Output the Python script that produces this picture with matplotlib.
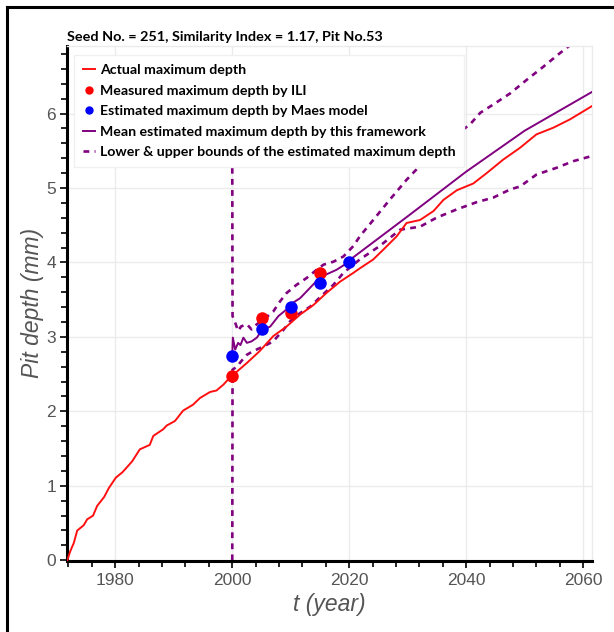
import matplotlib
matplotlib.use('Agg')
import matplotlib.pyplot as plt
from matplotlib.lines import Line2D
from matplotlib.ticker import MultipleLocator

# actual maximum pit depth (mm) over time
actual_t = [1971.8, 1972.3, 1972.9, 1973.5, 1974.6, 1975.2, 1976.2, 1976.9, 1978.1, 1978.9,
            1980.1, 1981.2, 1982.0, 1982.9, 1984.2, 1985.9, 1986.5, 1988.2, 1988.8, 1990.2,
            1991.6, 1993.3, 1994.5, 1996.2, 1997.3, 1998.5, 1999.3, 2000.0, 2002.5, 2004.7,
            2007.0, 2009.3, 2011.6, 2013.9, 2016.1, 2018.4, 2020.7, 2021.8, 2024.1, 2025.8,
            2028.1, 2029.8, 2032.1, 2034.4, 2036.1, 2038.4, 2041.2, 2043.5, 2046.3, 2049.2,
            2052.0, 2054.9, 2057.7, 2061.5]
actual_d = [0.00, 0.12, 0.23, 0.40, 0.47, 0.55, 0.60, 0.73, 0.85, 0.97,
            1.11, 1.18, 1.25, 1.33, 1.49, 1.55, 1.67, 1.76, 1.81, 1.87,
            2.01, 2.09, 2.18, 2.26, 2.28, 2.36, 2.43, 2.48, 2.65, 2.81,
            3.01, 3.14, 3.30, 3.43, 3.59, 3.74, 3.86, 3.92, 4.04, 4.17,
            4.35, 4.53, 4.57, 4.69, 4.84, 4.97, 5.06, 5.20, 5.38, 5.54,
            5.72, 5.81, 5.92, 6.10]

# ILI measurements
ili_t = [2000, 2005, 2010, 2015]
ili_d = [2.48, 3.25, 3.32, 3.86]

# Maes model estimates
maes_t = [2000, 2005, 2010, 2015, 2020]
maes_d = [2.75, 3.10, 3.40, 3.72, 4.00]

# mean estimate of the framework
mean_t = [2000.0, 2000.1, 2000.5, 2001.0, 2001.4, 2001.9, 2002.5, 2003.3, 2004.2, 2005.0,
          2006.5, 2007.9, 2009.3, 2010.4, 2011.6, 2012.7, 2014.4, 2016.1, 2017.8, 2019.6,
          2020.2, 2030.0, 2040.0, 2050.0, 2061.5]
mean_d = [2.75, 2.99, 2.83, 2.92, 2.89, 2.99, 2.92, 2.94, 2.99, 3.08,
          3.14, 3.28, 3.37, 3.46, 3.52, 3.61, 3.75, 3.84, 3.90, 3.99,
          4.04, 4.62, 5.22, 5.77, 6.29]

# upper and lower bounds
upper_t = [2000.0, 2000.05, 2000.5, 2001.0, 2001.5, 2002.5, 2003.3, 2004.2, 2005.3, 2007.0,
           2008.2, 2009.3, 2011.0, 2012.7, 2014.4, 2015.6, 2017.3, 2019.0, 2020.7, 2021.8,
           2024.1, 2026.9, 2029.8, 2032.6, 2035.5, 2038.3, 2040.6, 2042.4, 2044.6, 2047.5,
           2050.3, 2053.2, 2056.0, 2058.3, 2061.5]
upper_d = [5.27, 3.28, 3.19, 3.08, 3.14, 3.17, 3.10, 3.17, 3.23, 3.34,
           3.48, 3.59, 3.70, 3.79, 3.90, 3.97, 4.01, 4.08, 4.22, 4.35,
           4.57, 4.84, 5.11, 5.34, 5.56, 5.72, 5.85, 6.01, 6.12, 6.27,
           6.45, 6.63, 6.81, 6.95, 7.15]
lower_t = [2000.0, 2000.05, 2000.8, 2001.5, 2002.5, 2003.6, 2005.3, 2007.0, 2008.8, 2009.9,
           2011.6, 2013.4, 2015.1, 2017.3, 2019.0, 2020.7, 2021.8, 2025.2, 2028.7, 2032.1,
           2034.9, 2038.3, 2041.8, 2044.6, 2047.5, 2049.2, 2052.0, 2055.4, 2058.3, 2061.5]
lower_d = [0.00, 2.56, 2.60, 2.67, 2.76, 2.81, 2.87, 2.94, 3.10, 3.21,
           3.32, 3.41, 3.54, 3.70, 3.86, 3.97, 4.04, 4.22, 4.44, 4.48,
           4.60, 4.71, 4.81, 4.87, 4.98, 5.02, 5.18, 5.27, 5.36, 5.43]

PURPLE = '#800080'
DASH = (0, (2.2, 2))

fig = plt.figure(figsize=(6.14, 6.32), dpi=100)
ax = fig.add_axes([0.1096, 0.1123, 0.8546, 0.8153])

ax.plot(upper_t, upper_d, color=PURPLE, lw=1.9, ls=DASH, zorder=2)
ax.plot(lower_t, lower_d, color=PURPLE, lw=1.9, ls=DASH, zorder=2)
ax.plot(mean_t, mean_d, color=PURPLE, lw=1.4, zorder=3)
ax.plot(actual_t, actual_d, color='#ff1010', lw=1.4, zorder=3)
ax.plot(ili_t, ili_d, 'o', color='#ff0000', ms=9, mec='none', zorder=4)
ax.plot(maes_t, maes_d, 'o', color='#0000ff', ms=9, mec='none', zorder=5)

ax.set_xlim(1971.8, 2061.5)
ax.set_ylim(-0.01, 6.91)
ax.xaxis.set_major_locator(MultipleLocator(20))
ax.xaxis.set_minor_locator(MultipleLocator(4))
ax.yaxis.set_major_locator(MultipleLocator(1))
ax.yaxis.set_minor_locator(MultipleLocator(0.2))
ax.grid(True, which='major', color='#ebebeb', lw=1)
ax.set_axisbelow(True)

for side in ['left', 'bottom']:
    ax.spines[side].set_linewidth(2.2)
    ax.spines[side].set_color('black')
for side in ['top', 'right']:
    ax.spines[side].set_linewidth(1)
    ax.spines[side].set_color('#ebebeb')

ax.tick_params(which='both', direction='out', color='black', width=1.2,
               labelsize=12.5, labelcolor='#555555')
ax.tick_params(which='major', length=5)
ax.tick_params(which='minor', length=4)
ax.tick_params(axis='y', pad=3)
for lab in ax.get_xticklabels() + ax.get_yticklabels():
    lab.set_family('Liberation Sans')

ax.set_xlabel('t (year)', fontsize=16.5, style='italic', color='#555555',
              family='Liberation Sans', labelpad=4)
ax.set_ylabel('Pit depth (mm)', fontsize=16.5, style='italic', color='#555555',
              family='Liberation Sans', labelpad=2)

ax.text(0.0, 1.006, 'Seed No. = 251, Similarity Index = 1.17, Pit No.53',
        transform=ax.transAxes, fontsize=10.4, fontweight='bold', family='Lato',
        ha='left', va='bottom')

handles = [
    Line2D([], [], color='#ff1010', lw=1.4),
    Line2D([], [], ls='none', marker='o', color='#ff0000', ms=6, mec='none'),
    Line2D([], [], ls='none', marker='o', color='#0000ff', ms=6, mec='none'),
    Line2D([], [], color=PURPLE, lw=1.4),
    Line2D([], [], color=PURPLE, lw=1.9, ls=DASH),
]
labels = ['Actual maximum depth',
          'Measured maximum depth by ILI',
          'Estimated maximum depth by Maes model',
          'Mean estimated maximum depth by this framework',
          'Lower & upper bounds of the estimated maximum depth']
leg = ax.legend(handles, labels, loc='upper left', bbox_to_anchor=(0.013, 0.982),
                borderaxespad=0, frameon=True, fancybox=False, handlelength=0.8,
                handletextpad=0.35, labelspacing=0.6, borderpad=0.65,
                prop={'family': 'Lato', 'weight': 'bold', 'size': 10.2})
leg.get_frame().set_edgecolor('#f0f0f0')
leg.get_frame().set_linewidth(1)
leg.get_frame().set_alpha(1)

# page frame on the top and left edges
fig.add_artist(Line2D([7 / 614, 1.0], [1 - 6.5 / 632, 1 - 6.5 / 632],
                      transform=fig.transFigure, color='black', lw=2.2))
fig.add_artist(Line2D([7 / 614, 7 / 614], [0.0, 1 - 6.5 / 632],
                      transform=fig.transFigure, color='black', lw=2.2))

fig.savefig('out.png', dpi=100)
